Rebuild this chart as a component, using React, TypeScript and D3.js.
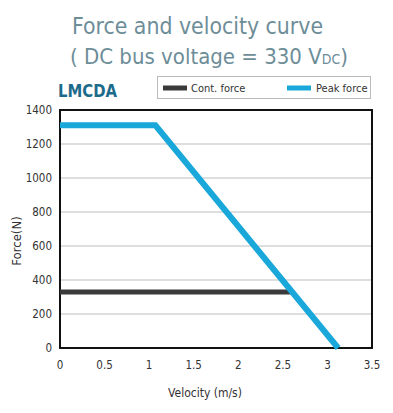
import React from "react";
import * as d3 from "d3";

const peakVel = [0, 1.07, 3.12];
const peakForce = [1310, 1310, 0];
const contVel = [0, 2.6];
const contForce = [330, 330];
const xTicks = [0, 0.5, 1, 1.5, 2, 2.5, 3, 3.5];
const yTicks = [0, 200, 400, 600, 800, 1000, 1200, 1400];
const legendLabels = ["Cont. force", "Peak force"];
const colors = ["#3a3a3a", "#1aa8da"];

export default function App() {
  const W = 393, H = 413;
  const x = d3.scaleLinear().domain([0, 3.5]).range([60, 372]);
  const y = d3.scaleLinear().domain([0, 1400]).range([348, 110]);
  const line = d3.line<[number, number]>().x(d => x(d[0])).y(d => y(d[1]));
  const peak = line(peakVel.map((v, i) => [v, peakForce[i]]));
  const cont = line(contVel.map((v, i) => [v, contForce[i]]));
  const font = "'DejaVu Sans Condensed', 'Noto Sans', sans-serif";
  return (
    <svg width={W} height={H} style={{ position: "absolute", left: 0, top: 0 }} fontFamily={font}>
      <rect width={W} height={H} fill="#fff" />
      <text x={72} y={34} fontSize={23} fill="#6d8d98" textLength={251} lengthAdjust="spacingAndGlyphs">Force and velocity curve</text>
      <text x={70} y={64} fontSize={22} fill="#6d8d98">
        <tspan>( DC bus voltage = 330 V</tspan>
        <tspan fontSize={14}>DC</tspan>
        <tspan>)</tspan>
      </text>
      <text x={58} y={97} fontSize={17} fontWeight="bold" fill="#1d6b8a" textLength={59} lengthAdjust="spacingAndGlyphs">LMCDA</text>
      <rect x={157.5} y={76.5} width={213} height={22} fill="#fff" stroke="#bbb" strokeWidth={1} />
      <line x1={163} x2={187} y1={88} y2={88} stroke={colors[0]} strokeWidth={5} />
      <text x={191} y={92} fontSize={11} fill="#333">{legendLabels[0]}</text>
      <line x1={287} x2={311} y1={88} y2={88} stroke={colors[1]} strokeWidth={5} />
      <text x={316} y={92} fontSize={11} fill="#333">{legendLabels[1]}</text>
      {yTicks.filter(t => t > 0 && t < 1400).map(t => (
        <line key={t} x1={x(0)} x2={x(3.5)} y1={y(t)} y2={y(t)} stroke="#bdbdbd" strokeWidth={1} />
      ))}
      <rect x={x(0)} y={y(1400)} width={x(3.5) - x(0)} height={y(0) - y(1400)} fill="none" stroke="#111" strokeWidth={2} />
      <path d={cont ?? ""} fill="none" stroke={colors[0]} strokeWidth={5} />
      <path d={peak ?? ""} fill="none" stroke={colors[1]} strokeWidth={6} strokeLinejoin="miter" />
      {yTicks.map(t => (
        <text key={t} x={52} y={y(t) + 4} fontSize={11.5} textAnchor="end" fill="#333">{t}</text>
      ))}
      {xTicks.map(t => (
        <text key={t} x={x(t)} y={369} fontSize={11.5} textAnchor="middle" fill="#333">{t}</text>
      ))}
      <text x={205} y={397} fontSize={12} textAnchor="middle" fill="#333">Velocity (m/s)</text>
      <text transform={`translate(21,241) rotate(-90)`} fontSize={13} textAnchor="middle" fill="#333">Force(N)</text>
    </svg>
  );
}
